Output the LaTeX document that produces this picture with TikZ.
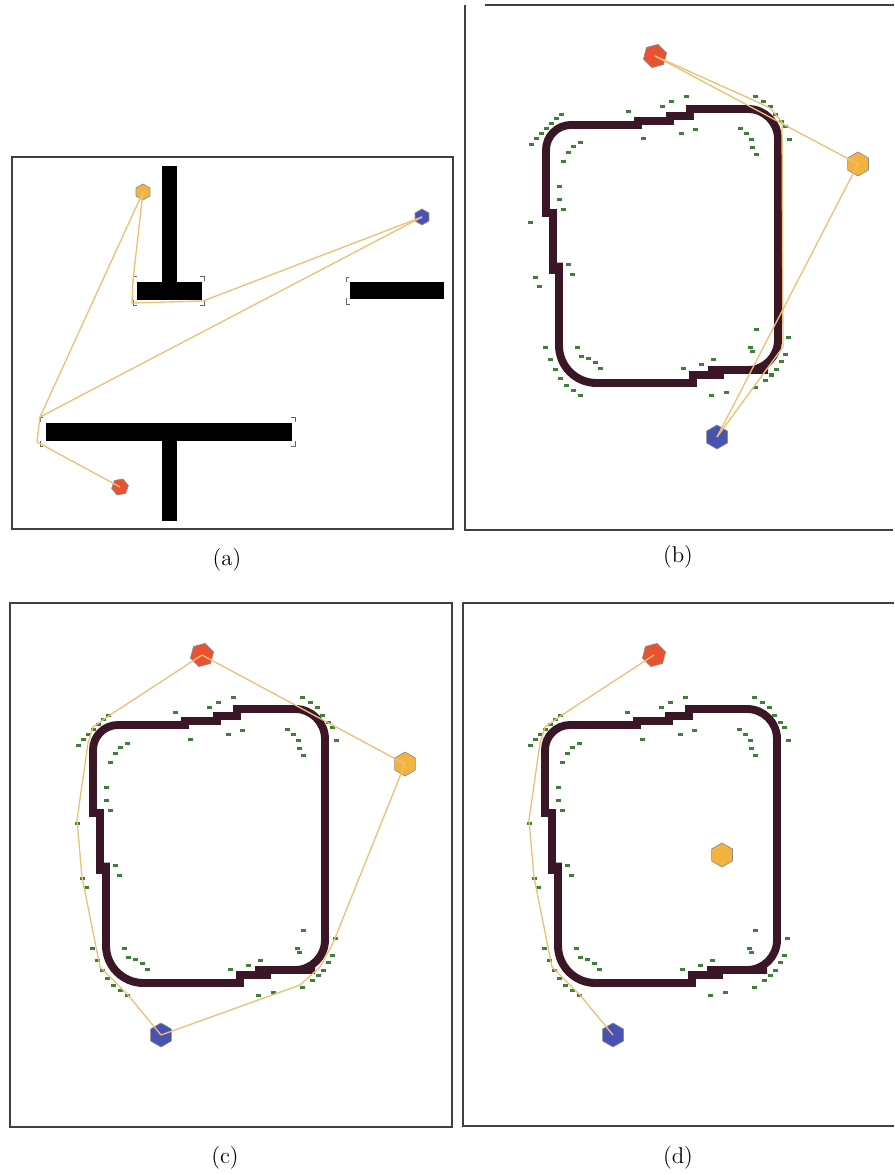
\documentclass[tikz,border=0pt]{standalone}
\usetikzlibrary{shapes.geometric}
\definecolor{wallc}{RGB}{58,22,38}
\definecolor{botred}{RGB}{232,82,48}
\definecolor{botorange}{RGB}{242,180,62}
\definecolor{botblue}{RGB}{72,82,178}
\definecolor{routec}{RGB}{236,192,118}
\definecolor{hitc}{RGB}{62,128,58}
% the closed wall and the range hits round it, drawn in the frame of panel (c)
\newcommand{\roomloop}{%
  \draw[wall] (93,780) [rounded corners=0.5cm] -- (93,725) -- (150,725)
    [sharp corners] -- (185,725) -- (185,721) -- (217,721) -- (217,716)
    -- (237,716) -- (237,709) -- (260,709)
    [rounded corners=0.6cm] -- (325,709) -- (325,970) -- (285,970)
    [sharp corners] -- (267,970) -- (267,975) -- (240,975) -- (240,983) -- (200,983)
    [rounded corners=0.75cm] -- (106,983) -- (106,900)
    [sharp corners] -- (106,870) -- (100,870) -- (100,813) -- (93,813) -- cycle;
  \foreach \hx/\hy in {108/715,103/719,98/724,93/729,88/734,83/739,78/745,
      175/712,209/707,218/702,233/697,
      302/697,310/702,317/707,322/715,328/722,332/727,336/740,
      127/743,120/747,115/753,110/762,
      190/739,228/734,242/730,
      287/729,293/734,298/740,299/748,303/755,
      106/787,106/800,110/810,115/865,119/875,
      77/823,82/878,86/887,
      92/948,97/960,102/970,107/978,113/985,120/990,127/995,
      124/948,128/957,135/959,142/963,147/969,
      230/969,248/965,260/960,
      297/948,299/952,303/930,
      335/938,332/955,328/962,323/970,318/975,312/980,302/987,
      258/995,273/992}
    \fill[hit] (\hx-2.5,\hy-1.5) rectangle (\hx+2.5,\hy+1.5);
}

\begin{document}
\begin{tikzpicture}[x=0.02cm,y=-0.02cm,
    frame/.style={black!75,line width=0.7pt},
    wall/.style={wallc,line width=4.5pt},
    hit/.style={hitc},
    route/.style={routec,line width=0.75pt},
    cornertick/.style={black!60,line width=0.5pt},
    bot/.style={shape=regular polygon,regular polygon sides=6,shape border rotate=30,
      minimum size=0.48cm,inner sep=0pt,draw=black!45,line width=0.4pt},
    caption/.style={font=\fontsize{13}{15}\selectfont}]
  \useasboundingbox (0,0) rectangle (894,1175);

  % (a)
  \draw[frame] (12,157) rectangle (453,529);
  \fill (162,166) rectangle (177,282);
  \fill (137,282) rectangle (202,300);
  \fill (350,282) rectangle (444,299);
  \fill (46,423) rectangle (292,441);
  \fill (162,441) rectangle (177,521);
  \draw[cornertick] (137,276) -- (133,276) -- (133,281);
  \draw[cornertick] (133,300) -- (133,305) -- (137,305);
  \draw[cornertick] (200,276) -- (204,276) -- (204,281);
  \draw[cornertick] (204,300) -- (204,305) -- (200,305);
  \draw[cornertick] (349,277) -- (346,277) -- (346,282);
  \draw[cornertick] (346,298) -- (346,304) -- (350,304);
  \draw[cornertick] (43,417) -- (40,417) -- (40,422);
  \draw[cornertick] (40,441) -- (40,446) -- (43,446);
  \draw[cornertick] (291,417) -- (295,417) -- (295,422);
  \draw[cornertick] (295,441) -- (295,446) -- (291,446);
  \node[bot,minimum size=0.32cm,fill=botorange] (orangea) at (143,192) {};
  \node[bot,minimum size=0.32cm,fill=botblue] (bluea) at (422,217) {};
  \node[bot,minimum size=0.34cm,fill=botred,shape border rotate=10] (reda) at (120,487) {};
  \coordinate (forka) at (40,417);
  \draw[route] (orangea.center) -- (133,280) -- (132,303) -- (203,301) -- (bluea.center);
  \draw[route] (orangea.center) -- (forka) -- (bluea.center);
  \draw[route] (forka) -- (37,442) -- (reda.center);
  \node[caption] (capa) at (227,560) {(a)};

  % (b)
  \draw[frame] (485,5) -- (894,5);
  \draw[frame] (465,5) -- (465,530) -- (893,530);
  \begin{scope}[shift={(453,-600)}]
    \roomloop
    \node[bot,fill=botred,shape border rotate=15] (redb) at (202,656) {};
    \node[bot,fill=botorange] (orangeb) at (405,764) {};
    \node[bot,fill=botblue] (blueb) at (264,1037) {};
    \draw[route] (redb.center) -- (orangeb.center) -- (blueb.center);
    \draw[route] (redb.center) -- (300,700) -- (317,708) -- (329,722) -- (330,947) -- (blueb.center);
  \end{scope}
  \node[caption] (capb) at (678,557) {(b)};

  % (c)
  \draw[frame] (10,603) rectangle (452,1127);
  \roomloop
  \node[bot,fill=botred,shape border rotate=15] (redc) at (202,655) {};
  \node[bot,fill=botorange] (orangec) at (405,764) {};
  \node[bot,fill=botblue] (bluec) at (161,1035) {};
  \draw[route] (redc.center) -- (110,715) -- (93,727) -- (88,743) -- (77,820) -- (82,877)
    -- (100,967) -- (128,995) -- (bluec.center);
  \draw[route] (redc.center) -- (orangec.center) -- (333,943) -- (320,967) -- (300,985) -- (bluec.center);
  \node[caption] (capc) at (225,1158) {(c)};

  % (d)
  \draw[frame] (894,603) -- (463,603) -- (463,1126) -- (894,1126);
  \begin{scope}[shift={(452,0)}]
    \roomloop
    \node[bot,fill=botred,shape border rotate=15] (redd) at (202,655) {};
    \node[bot,fill=botorange] (oranged) at (270,855) {};
    \node[bot,fill=botblue] (blued) at (161,1035) {};
    \draw[route] (redd.center) -- (110,715) -- (93,727) -- (88,743) -- (77,820) -- (82,877)
      -- (100,967) -- (128,995) -- (blued.center);
  \end{scope}
  \node[caption] (capd) at (678,1158) {(d)};
\end{tikzpicture}
\end{document}
